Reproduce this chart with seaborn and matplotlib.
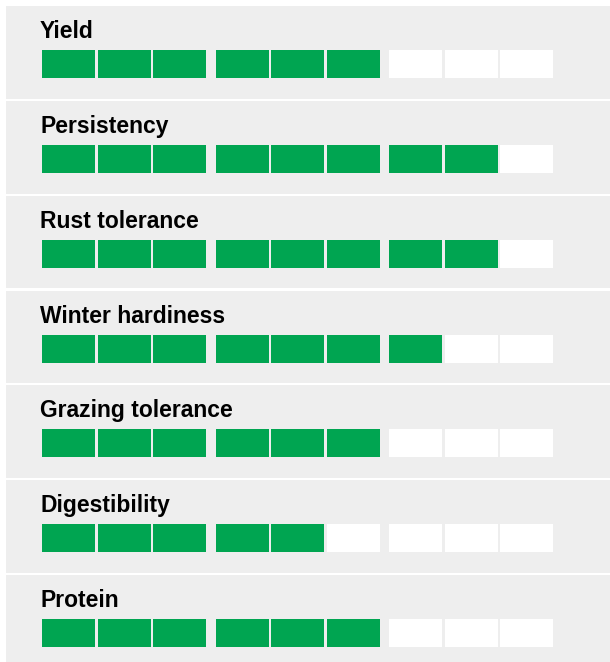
import matplotlib
matplotlib.use("Agg")
import matplotlib.pyplot as plt
import seaborn as sns
import pandas as pd

traits = ["Yield", "Persistency", "Rust tolerance", "Winter hardiness",
          "Grazing tolerance", "Digestibility", "Protein"]
scores = [6, 8, 8, 7, 6, 5, 6]
max_score = 9

GREEN = "#00a551"
EMPTY = "#ffffff"
PANEL = "#eeeeee"

sns.set_theme(style="white")
plt.rcParams["font.family"] = ["Liberation Sans", "DejaVu Sans"]

W, H = 610, 662
fig = plt.figure(figsize=(W / 100, H / 100), dpi=100)
fig.patch.set_facecolor("white")

df = pd.DataFrame({"trait": traits, "score": scores})

pitch = 94.85
first_top = 6.0
panel_h = 92.8
left_px = 6.0

cell_idx = list(range(max_score))
cell_left = [42 + (i // 3) * 173.5 + (i % 3) * 55.5 for i in cell_idx]

for i, row in df.iterrows():
    top = first_top + i * pitch
    bottom = H if i == len(df) - 1 else top + panel_h
    ax = fig.add_axes([left_px / W, 1 - bottom / H, (W - left_px) / W, (bottom - top) / H])
    ax.set_facecolor(PANEL)
    ax.set_xlim(left_px, W)
    ax.set_ylim(bottom, top)
    for s in ax.spines.values():
        s.set_visible(False)
    ax.set_xticks([])
    ax.set_yticks([])
    colors = [GREEN if c < row["score"] else EMPTY for c in cell_idx]
    ax.bar(cell_left, [28] * max_score, bottom=top + 44, width=53,
           align="edge", color=colors, linewidth=0)
    ax.text(40, top + 32, row["trait"], fontsize=16.5, fontweight="bold",
            color="#000000", va="baseline", ha="left")

fig.savefig("out.png", dpi=100, facecolor="white")
